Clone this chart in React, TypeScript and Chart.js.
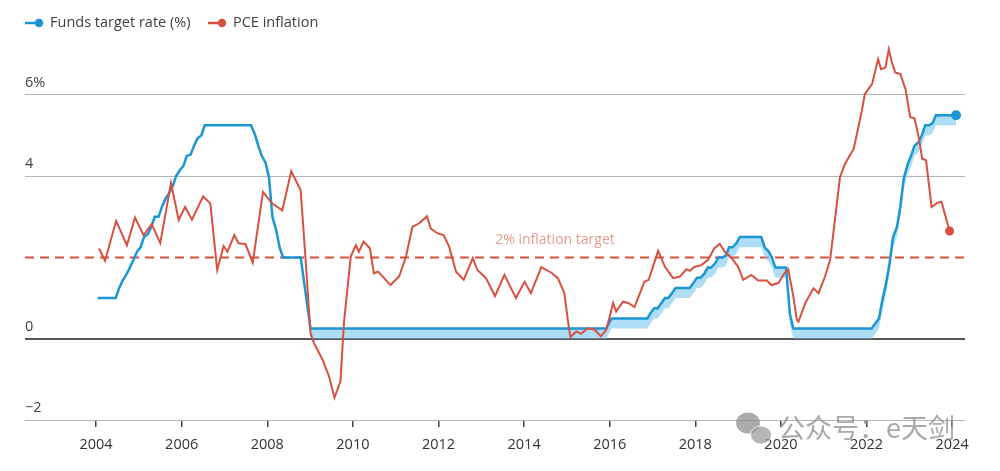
import React, { useEffect, useRef } from "react";
import { Chart, registerables } from "chart.js";

Chart.register(...registerables);

const xTicks = [2004, 2006, 2008, 2010, 2012, 2014, 2016, 2018, 2020, 2022, 2024];
const yTicks = [-2, 0, 4, 6];
const yTickLabels = ["\u22122", "0", "4", "6%"];
const inflationTarget = 2;
const inflationTargetLabel = "2% inflation target";
const legendLabels = ["Funds target rate (%)", "PCE inflation"];
const watermarkText = "公众号：e天剑";

const fundDates = [
  2004.04, 2004.46, 2004.54, 2004.62, 2004.71, 2004.79, 2004.87, 2004.96,
  2005.04, 2005.12, 2005.21, 2005.29, 2005.37, 2005.46, 2005.54, 2005.62, 2005.71, 2005.79, 2005.87, 2005.96,
  2006.04, 2006.12, 2006.21, 2006.29, 2006.37, 2006.46, 2006.54,
  2007.62, 2007.71, 2007.79, 2007.87, 2007.96,
  2008.04, 2008.12, 2008.21, 2008.29, 2008.37, 2008.78,
  2009.01, 2015.92, 2016.04, 2016.88, 2016.96,
  2017.04, 2017.12, 2017.21, 2017.29, 2017.37, 2017.46, 2017.54, 2017.87, 2017.96,
  2018.04, 2018.12, 2018.21, 2018.29, 2018.37, 2018.46, 2018.54, 2018.62, 2018.71, 2018.79, 2018.87, 2018.96,
  2019.04, 2019.54, 2019.62, 2019.71, 2019.79, 2019.87,
  2020.12, 2020.21, 2020.29, 2022.12, 2022.21, 2022.29, 2022.37, 2022.46, 2022.54, 2022.62, 2022.71, 2022.79, 2022.87, 2022.96,
  2023.04, 2023.12, 2023.21, 2023.29, 2023.37, 2023.46, 2023.54, 2023.62, 2024.09,
];

const fundUpper = [
  1.0, 1.0, 1.25, 1.43, 1.58, 1.75, 1.93, 2.15,
  2.25, 2.5, 2.58, 2.75, 3.0, 3.0, 3.25, 3.44, 3.59, 3.75, 4.0, 4.15,
  4.25, 4.5, 4.53, 4.75, 4.93, 5.0, 5.25,
  5.25, 5.03, 4.75, 4.5, 4.33,
  3.97, 3.0, 2.66, 2.24, 2.0, 2.0,
  0.25, 0.25, 0.5, 0.5, 0.64,
  0.75, 0.75, 0.88, 1.0, 1.0, 1.13, 1.25, 1.25, 1.38,
  1.5, 1.5, 1.6, 1.75, 1.75, 1.85, 2.0, 2.0, 2.04, 2.25, 2.25, 2.35,
  2.5, 2.5, 2.25, 2.15, 2.0, 1.75,
  1.75, 0.6, 0.25, 0.25, 0.38, 0.5, 0.95, 1.38, 1.87, 2.5, 2.75, 3.25, 3.95, 4.29,
  4.5, 4.75, 4.83, 5.0, 5.25, 5.25, 5.3, 5.5, 5.5,
];

const fundLower = [
  1.0, 1.0, 1.25, 1.43, 1.58, 1.75, 1.93, 2.15,
  2.25, 2.5, 2.58, 2.75, 3.0, 3.0, 3.25, 3.44, 3.59, 3.75, 4.0, 4.15,
  4.25, 4.5, 4.53, 4.75, 4.93, 5.0, 5.25,
  5.25, 5.03, 4.75, 4.5, 4.33,
  3.97, 3.0, 2.66, 2.24, 2.0, 2.0,
  0.0, 0.0, 0.25, 0.25, 0.39,
  0.5, 0.5, 0.63, 0.75, 0.75, 0.88, 1.0, 1.0, 1.13,
  1.25, 1.25, 1.35, 1.5, 1.5, 1.6, 1.75, 1.75, 1.79, 2.0, 2.0, 2.1,
  2.25, 2.25, 2.0, 1.9, 1.75, 1.5,
  1.5, 0.35, 0.0, 0.0, 0.13, 0.25, 0.7, 1.13, 1.62, 2.25, 2.5, 3.0, 3.7, 4.04,
  4.25, 4.5, 4.58, 4.75, 5.0, 5.0, 5.05, 5.25, 5.25,
];

const pceDates = [
  2004.07, 2004.21, 2004.47, 2004.72, 2004.91, 2005.11, 2005.3, 2005.5, 2005.75, 2005.93,
  2006.08, 2006.24, 2006.5, 2006.67, 2006.83, 2006.98, 2007.07, 2007.23, 2007.33, 2007.49,
  2007.66, 2007.9, 2008.11, 2008.35, 2008.56, 2008.78, 2008.89, 2009.01, 2009.09, 2009.29,
  2009.44, 2009.57, 2009.71, 2009.79, 2009.95, 2010.07, 2010.14, 2010.25, 2010.4, 2010.49,
  2010.59, 2010.88, 2011.08, 2011.24, 2011.39, 2011.55, 2011.73, 2011.82, 2011.98, 2012.12,
  2012.25, 2012.41, 2012.59, 2012.8, 2012.91, 2013.11, 2013.32, 2013.54, 2013.81, 2014.01,
  2014.16, 2014.4, 2014.63, 2014.79, 2014.94, 2015.02, 2015.08, 2015.22, 2015.33, 2015.49,
  2015.65, 2015.79, 2015.92, 2016.08, 2016.15, 2016.31, 2016.43, 2016.58, 2016.81, 2016.91,
  2017.13, 2017.29, 2017.48, 2017.64, 2017.79, 2017.87, 2017.99, 2018.14, 2018.3, 2018.44,
  2018.57, 2018.69, 2018.85, 2019.0, 2019.12, 2019.31, 2019.47, 2019.67, 2019.78, 2019.94,
  2020.08, 2020.17, 2020.29, 2020.37, 2020.41, 2020.57, 2020.76, 2020.88, 2021.03, 2021.15,
  2021.27, 2021.38, 2021.5, 2021.7, 2021.89, 2021.96, 2022.13, 2022.27, 2022.34, 2022.44,
  2022.52, 2022.59, 2022.67, 2022.79, 2022.91, 2023.02, 2023.12, 2023.22, 2023.3, 2023.39,
  2023.52, 2023.65, 2023.75, 2023.94,
];

const pceValues = [
  2.22, 1.92, 2.9, 2.3, 2.98, 2.55, 2.82, 2.35, 3.83, 2.92,
  3.24, 2.93, 3.5, 3.33, 1.69, 2.28, 2.14, 2.55, 2.35, 2.33,
  1.87, 3.61, 3.33, 3.16, 4.12, 3.65, 2.02, 0.14, -0.11, -0.51,
  -0.92, -1.45, -1.05, 0.38, 2.02, 2.3, 2.14, 2.39, 2.22, 1.61,
  1.65, 1.32, 1.53, 2.02, 2.75, 2.84, 3.01, 2.71, 2.59, 2.55,
  2.26, 1.65, 1.45, 1.98, 1.69, 1.49, 1.05, 1.57, 1.0, 1.4,
  1.12, 1.76, 1.63, 1.49, 1.12, 0.47, 0.04, 0.18, 0.12, 0.26,
  0.22, 0.06, 0.22, 0.88, 0.67, 0.91, 0.88, 0.78, 1.4, 1.45,
  2.16, 1.77, 1.49, 1.53, 1.71, 1.67, 1.77, 1.81, 1.94, 2.22,
  2.33, 2.14, 1.98, 1.77, 1.45, 1.57, 1.43, 1.43, 1.32, 1.37,
  1.61, 1.71, 1.04, 0.47, 0.42, 0.88, 1.24, 1.12, 1.53, 1.94,
  3.0, 3.98, 4.31, 4.67, 5.61, 6.02, 6.27, 6.88, 6.63, 6.67,
  7.12, 6.8, 6.55, 6.51, 6.14, 5.45, 5.43, 4.96, 4.43, 4.39,
  3.24, 3.34, 3.37, 2.65,
];

const BLUE = "#1b96d4";
const BLUE_FILL = "rgba(120, 200, 238, 0.6)";
const RED = "#d8503f";
const FONT = "'Open Sans', 'Noto Sans', sans-serif";
const TEXT = "#3f3f3f";

const decorPlugin = {
  id: "decor",
  beforeDatasetsDraw(chart: any) {
    const { ctx, chartArea, scales } = chart;
    const y = scales.y.getPixelForValue(inflationTarget);
    ctx.save();
    ctx.strokeStyle = RED;
    ctx.lineWidth = 2;
    ctx.setLineDash([9, 6]);
    ctx.beginPath();
    ctx.moveTo(chartArea.left, y);
    ctx.lineTo(chartArea.right, y);
    ctx.stroke();
    ctx.setLineDash([]);
    ctx.fillStyle = "#e69c8e";
    ctx.font = `14px ${FONT}`;
    ctx.textAlign = "center";
    ctx.textBaseline = "middle";
    ctx.fillText(inflationTargetLabel, 555, y - 17);
    ctx.restore();
  },
  afterDraw(chart: any) {
    const { ctx } = chart;
    ctx.save();
    // legend
    const items = [
      { color: BLUE, x: 25, label: legendLabels[0] },
      { color: RED, x: 208, label: legendLabels[1] },
    ];
    const ly = 23;
    items.forEach((it) => {
      ctx.strokeStyle = it.color;
      ctx.lineWidth = 2.5;
      ctx.beginPath();
      ctx.moveTo(it.x, ly);
      ctx.lineTo(it.x + 12, ly);
      ctx.stroke();
      ctx.fillStyle = it.color;
      ctx.beginPath();
      ctx.arc(it.x + 14, ly, 4.2, 0, Math.PI * 2);
      ctx.fill();
      ctx.fillStyle = TEXT;
      ctx.font = `14.5px ${FONT}`;
      ctx.textAlign = "left";
      ctx.textBaseline = "middle";
      ctx.fillText(it.label, it.x + 25, ly);
    });
    // watermark
    ctx.globalAlpha = 0.72;
    ctx.fillStyle = "#8a8a8a";
    ctx.beginPath();
    ctx.ellipse(748, 423, 12, 10.5, 0, 0, Math.PI * 2);
    ctx.fill();
    ctx.fillStyle = "#9a9a9a";
    ctx.beginPath();
    ctx.ellipse(761, 435, 10.5, 9, 0, 0, Math.PI * 2);
    ctx.fill();
    ctx.strokeStyle = "#ffffff";
    ctx.lineWidth = 1;
    ctx.beginPath();
    ctx.ellipse(761, 435, 10.5, 9, 0, 0, Math.PI * 2);
    ctx.stroke();
    ctx.fillStyle = "#888888";
    ctx.font = `27px 'Noto Sans CJK SC', sans-serif`;
    ctx.textAlign = "left";
    ctx.textBaseline = "middle";
    ctx.fillText(watermarkText, 778, 428);
    ctx.restore();
  },
};

export default function App() {
  const canvasRef = useRef<HTMLCanvasElement | null>(null);

  useEffect(() => {
    if (!canvasRef.current) return;
    const lastFund = fundDates.length - 1;
    const lastPce = pceDates.length - 1;
    const chart = new Chart(canvasRef.current, {
      type: "line",
      data: {
        datasets: [
          {
            label: "lower",
            data: fundDates.map((d, i) => ({ x: d, y: fundLower[i] })),
            borderWidth: 0,
            borderColor: "rgba(0,0,0,0)",
            pointRadius: 0,
            fill: false,
            order: 3,
          },
          {
            label: legendLabels[0],
            data: fundDates.map((d, i) => ({ x: d, y: fundUpper[i] })),
            borderColor: BLUE,
            backgroundColor: BLUE_FILL,
            borderWidth: 2.5,
            fill: "-1",
            pointRadius: (c: any) => (c.dataIndex === lastFund ? 5 : 0),
            pointBackgroundColor: BLUE,
            pointBorderWidth: 0,
            order: 2,
          },
          {
            label: legendLabels[1],
            data: pceDates.map((d, i) => ({ x: d, y: pceValues[i] })),
            borderColor: RED,
            borderWidth: 2,
            fill: false,
            pointRadius: (c: any) => (c.dataIndex === lastPce ? 4.5 : 0),
            pointBackgroundColor: RED,
            pointBorderWidth: 0,
            order: 1,
          },
        ],
      },
      options: {
        animation: false,
        responsive: true,
        maintainAspectRatio: false,
        layout: { padding: { top: 40, right: 35, left: 0, bottom: 0 } },
        plugins: {
          legend: { display: false },
          tooltip: { enabled: false },
        },
        elements: { line: { tension: 0 } },
        scales: {
          x: {
            type: "linear",
            min: 2002.34,
            max: 2024.3,
            afterBuildTicks: (axis: any) => {
              axis.ticks = xTicks.map((v) => ({ value: v }));
            },
            afterFit: (s: any) => {
              s.height = 51;
            },
            ticks: {
              callback: (v: any) => String(v),
              color: "#333",
              font: { family: FONT, size: 14.5 },
              padding: 9,
              autoSkip: false,
              maxRotation: 0,
            },
            grid: {
              drawOnChartArea: false,
              drawTicks: true,
              tickLength: 7,
              color: "#444",
              lineWidth: 1.5,
            },
            border: { display: false },
          },
          y: {
            type: "linear",
            min: -2,
            max: 7.35,
            afterBuildTicks: (axis: any) => {
              axis.ticks = yTicks.map((v) => ({ value: v }));
            },
            afterFit: (s: any) => {
              s.width = 25;
            },
            ticks: {
              callback: (v: any) => yTickLabels[yTicks.indexOf(v)] ?? "",
              mirror: true,
              padding: 0,
              labelOffset: -12,
              color: "#444",
              font: { family: FONT, size: 14.5 },
              autoSkip: false,
            },
            grid: {
              drawTicks: false,
              color: (c: any) => (c.tick && c.tick.value === 0 ? "#555" : "#b5b5b5"),
              lineWidth: (c: any) => (c.tick && c.tick.value === 0 ? 2 : 1),
            },
            border: { display: false },
          },
        },
      },
      plugins: [decorPlugin],
    } as any);
    return () => chart.destroy();
  }, []);

  return (
    <div style={{ position: "fixed", left: 0, top: 0, width: 1000, height: 471, background: "#fff" }}>
      <canvas ref={canvasRef} />
    </div>
  );
}
